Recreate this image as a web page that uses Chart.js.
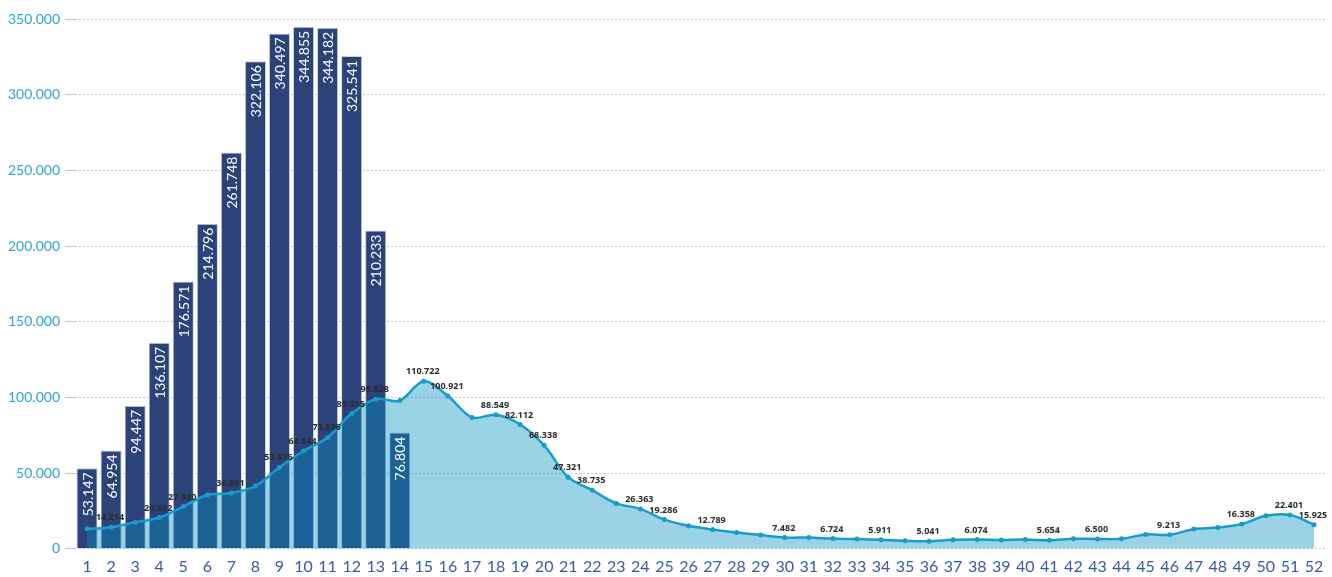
<!DOCTYPE html>
<html>
<head>
<meta charset="utf-8">
<script src="https://cdn.jsdelivr.net/npm/chart.js@4/dist/chart.umd.min.js"></script>
<style>
html,body{margin:0;padding:0;background:#fff;}
#wrap{width:1332px;height:577px;position:relative;}
</style>
</head>
<body>
<div id="wrap"><canvas id="c" width="1332" height="577"></canvas></div>
<script>
// ---- data ----
const weeks = Array.from({length: 52}, (_, i) => String(i + 1));
const barValues = [53147, 64954, 94447, 136107, 176571, 214796, 261748, 322106, 340497, 344855, 344182, 325541, 210233, 76804];
const lineValues = [
  13200, 14214, 17600, 20622, 27920, 35500, 36891, 41500, 53876, 64644,
  73586, 89355, 98828, 97900, 110722, 100921, 86800, 88549, 82112, 68338,
  47321, 38735, 30000, 26363, 19286, 15200, 12789, 10800, 9100, 7482,
  7400, 6724, 6400, 5911, 5300, 5041, 5900, 6074, 5800, 6100,
  5654, 6600, 6500, 6600, 9500, 9213, 13000, 14000, 16358, 21800,
  22401, 15925
];
const labeledWeeks = [2, 4, 5, 7, 9, 10, 11, 12, 13, 15, 16, 18, 19, 20, 21, 22, 24, 25, 27, 30, 32, 34, 36, 38, 41, 43, 46, 49, 51, 52];
const yTicks = [0, 50000, 100000, 150000, 200000, 250000, 300000, 350000];

function fmt(v) {
  return String(Math.round(v)).replace(/\B(?=(\d{3})+(?!\d))/g, '.');
}

const labelPlugin = {
  id: 'valueLabels',
  afterDatasetsDraw(chart) {
    const ctx = chart.ctx;
    // bar labels
    const barMeta = chart.getDatasetMeta(1);
    ctx.save();
    ctx.fillStyle = '#ffffff';
    ctx.font = '14px Lato, "Open Sans", sans-serif';
    ctx.textAlign = 'right';
    ctx.textBaseline = 'middle';
    barMeta.data.forEach((el, i) => {
      const v = barValues[i];
      if (v == null) return;
      ctx.save();
      ctx.translate(el.x + 1, el.y + 4);
      ctx.rotate(-Math.PI / 2);
      ctx.fillText(fmt(v), 0, 0);
      ctx.restore();
    });
    ctx.restore();
    // line labels
    const lineMeta = chart.getDatasetMeta(0);
    ctx.save();
    ctx.fillStyle = '#2a2a2a';
    ctx.font = 'bold 9px "Open Sans", Lato, sans-serif';
    ctx.textAlign = 'center';
    ctx.textBaseline = 'bottom';
    labeledWeeks.forEach(w => {
      const el = lineMeta.data[w - 1];
      ctx.fillText(fmt(lineValues[w - 1]), el.x - 1, el.y - 5);
    });
    ctx.restore();
  }
};

new Chart(document.getElementById('c'), {
  data: {
    labels: weeks,
    datasets: [
      {
        type: 'line',
        data: lineValues,
        order: 0,
        borderColor: '#179ccb',
        borderWidth: 2.5,
        backgroundColor: 'rgba(5,146,193,0.4)',
        fill: 'origin',
        tension: 0.35,
        pointRadius: 2.5,
        pointBackgroundColor: '#179ccb',
        pointBorderWidth: 0
      },
      {
        type: 'bar',
        data: barValues,
        order: 1,
        backgroundColor: '#2c437a',
        borderColor: '#c9d2e4',
        borderWidth: 1,
        barPercentage: 0.88,
        categoryPercentage: 1
      }
    ]
  },
  options: {
    responsive: false,
    animation: false,
    layout: { padding: { top: 19, right: 6, left: 0, bottom: 1 } },
    plugins: { legend: { display: false }, tooltip: { enabled: false } },
    scales: {
      x: {
        offset: true,
        grid: { display: false },
        border: { display: false },
        ticks: {
          color: '#3b5a98',
          font: { family: 'Lato, "Open Sans", sans-serif', size: 16 },
          maxRotation: 0, autoSkip: false, padding: 0
        }
      },
      y: {
        min: 0, max: 350000,
        afterBuildTicks(axis) { axis.ticks = yTicks.map(v => ({ value: v })); },
        afterFit(axis) { axis.width = 75; },
        border: { display: false, dash: [2, 2] },
        grid: { color: '#c4c4c4', lineWidth: 1, tickLength: 10, drawTicks: true },
        ticks: {
          color: '#2ea3d3',
          font: { family: 'Lato, "Open Sans", sans-serif', size: 14 },
          padding: 5,
          callback: v => fmt(v)
        }
      }
    }
  },
  plugins: [labelPlugin]
});
</script>
</body>
</html>
